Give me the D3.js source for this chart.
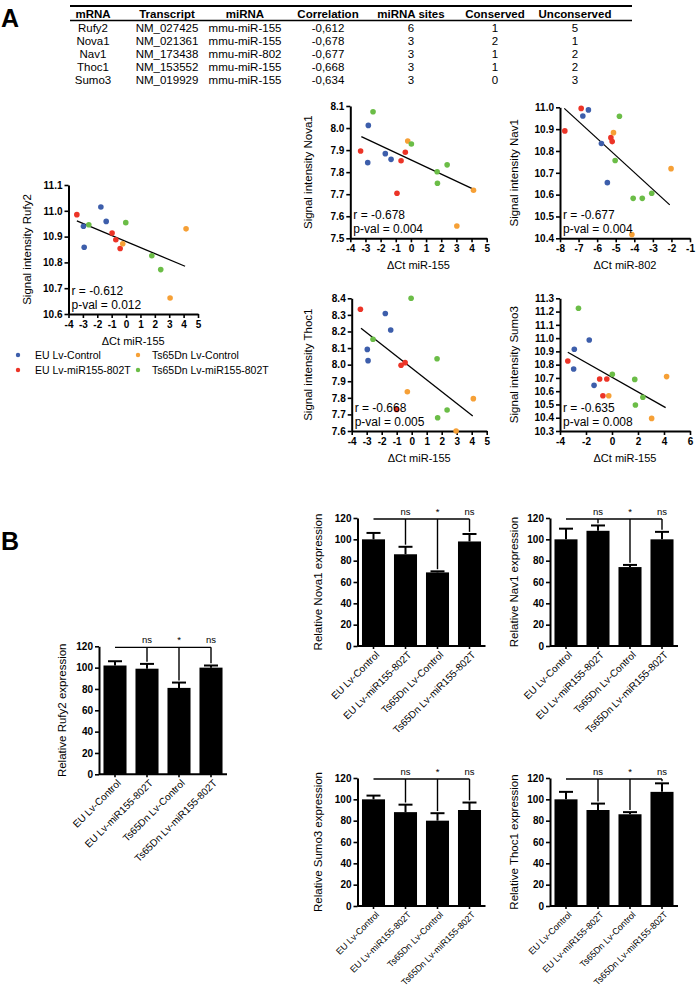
<!DOCTYPE html>
<html><head><meta charset="utf-8">
<script src="https://cdn.jsdelivr.net/npm/d3@7"></script>
<style>
body{margin:0;background:#fff}
text{font-family:"Liberation Sans",Arial,sans-serif;fill:#000}
</style>
</head><body>
<svg id="c" width="696" height="992"></svg>
<script>
// ---------------- DATA ----------------
const tableHeader = ["mRNA","Transcript","miRNA","Correlation","miRNA sites","Conserved","Unconserved"];
const tableMRNA = ["Rufy2","Nova1","Nav1","Thoc1","Sumo3"];
const tableTranscript = ["NM_027425","NM_021361","NM_173438","NM_153552","NM_019929"];
const tableMiRNA = ["mmu-miR-155","mmu-miR-155","mmu-miR-802","mmu-miR-155","mmu-miR-155"];
const tableCorrelation = ["-0,612","-0,678","-0,677","-0,668","-0,634"];
const tableSites = [6,3,3,3,3];
const tableConserved = [1,2,1,1,0];
const tableUnconserved = [5,1,2,2,3];

const groupNames = ["EU Lv-Control","EU Lv-miR155-802T","Ts65Dn Lv-Control","Ts65Dn Lv-miR155-802T"];
const groupColors = ["#3d5eab","#ec3427","#f6a036","#6bbd47"];

// scatter: group index 0 blue,1 red,2 orange,3 green
const rufy2G = [0,0,0,0, 1,1,1,1, 2,2,2, 3,3,3,3];
const rufy2X = [-1.75,-2.96,-1.38,-2.91, -3.42,-0.97,-0.71,-0.41, -0.23,4.17,3.06, -2.59,-0.02,1.79,2.41];
const rufy2Y = [11.015,10.94,10.959,10.859, 10.985,10.914,10.888,10.854, 10.872,10.93,10.662, 10.946,10.954,10.826,10.772];
const rufy2Fit = [-3.42,10.961,4.1,10.785];

const nova1G = [0,0,0,0, 1,1,1,1, 2,2,2, 3,3,3,3,3];
const nova1X = [-2.81,-2.85,-1.69,-1.31, -3.32,-0.65,-0.37,-0.92, -0.21,4.13,3.03, -2.5,0.03,1.73,1.75,2.39];
const nova1Y = [8.012,7.843,7.884,7.858, 7.896,7.852,7.89,7.704, 7.941,7.718,7.556, 8.074,7.928,7.802,7.75,7.833];
const nova1Fit = [-3.27,7.961,4.08,7.724];

const nav1G = [0,0,0,0, 1,1,1,1, 2,2,2, 3,3,3,3,3];
const nav1X = [-6.47,-6.77,-5.77,-5.45, -6.86,-7.74,-5.26,-5.19, -5.12,-2.02,-4.13, -4.8,-5.03,-4.06,-3.57,-3.06];
const nav1Y = [10.988,10.96,10.834,10.655, 10.995,10.892,10.861,10.843, 10.884,10.719,10.417, 10.959,10.756,10.583,10.583,10.606];
const nav1Fit = [-7.77,10.995,-2.09,10.553];

const thoc1G = [0,0,0,0, 1,1,1,1, 2,2,2, 3,3,3,3,3];
const thoc1X = [-1.76,-1.4,-2.96,-2.91, -3.42,-0.44,-0.71,-1.0, -0.29,4.11,2.96, -0.04,-2.58,1.69,2.36,1.73];
const thoc1Y = [8.308,8.209,8.092,8.024, 8.334,8.012,7.996,7.73, 7.837,7.795,7.6, 8.4,8.153,8.036,7.727,7.68];
const thoc1Fit = [-3.38,8.219,4.07,7.69];

const sumo3G = [0,0,0,0, 1,1,1,1, 2,2,2, 3,3,3,3,3];
const sumo3X = [-1.75,-2.9,-2.95,-1.38, -3.4,-0.95,-0.4,-0.7, 4.2,-0.25,3.05, -2.58,0.025,1.75,2.375,1.8];
const sumo3Y = [10.986,10.916,10.767,10.644, 10.828,10.692,10.692,10.566, 10.71,10.566,10.395, 11.225,10.727,10.689,10.554,10.496];
const sumo3Fit = [-3.4,10.893,4.125,10.476];

const scatterStats = {
  Rufy2:["r = -0.612","p-val = 0.012"], Nova1:["r = -0.678","p-val = 0.004"],
  Nav1:["r = -0.677","p-val = 0.004"], Thoc1:["r = -0.668","p-val = 0.005"],
  Sumo3:["r = -0.635","p-val = 0.008"]
};

// bars
const barCategories = ["EU Lv-Control","EU Lv-miR155-802T","Ts65Dn Lv-Control","Ts65Dn Lv-miR155-802T"];
const rufy2Bars = [102,99,81,100];   const rufy2Err = [4,4.5,5,2];
const nova1Bars = [100,86,69,98];    const nova1Err = [6,7,1,7];
const nav1Bars  = [100,108,74,100];  const nav1Err  = [10,5,2,7];
const sumo3Bars = [100,88,80,90];    const sumo3Err = [3.5,7,7,7];
const thoc1Bars = [100,90,86,107];   const thoc1Err = [7,6,2,8];
const sigLabels = ["ns","*","ns"];
const barYTicks = [0,20,40,60,80,100,120];

// ---------------- DRAW ----------------
const svg = d3.select("#c");

// panel letters
svg.append("text").attr("x",1).attr("y",27).attr("font-size",25).attr("font-weight","bold").text("A");
svg.append("text").attr("x",1).attr("y",550).attr("font-size",25).attr("font-weight","bold").text("B");

// table
const colX = [93,167,245,328,411,495,575];
const tfont = '"Liberation Sans Narrow","Arial Narrow","Liberation Sans",Arial,sans-serif';
svg.append("line").attr("x1",70).attr("x2",632).attr("y1",6).attr("y2",6).attr("stroke","#000").attr("stroke-width",2);
svg.append("line").attr("x1",70).attr("x2",632).attr("y1",20.5).attr("y2",20.5).attr("stroke","#000").attr("stroke-width",1.6);
tableHeader.forEach((h,i)=>{
  svg.append("text").attr("x",colX[i]).attr("y",18).attr("text-anchor","middle")
    .attr("font-size",11.5).attr("font-weight","bold").style("font-family",tfont).text(h);
});
const tableCols = [tableMRNA,tableTranscript,tableMiRNA,tableCorrelation,tableSites,tableConserved,tableUnconserved];
tableMRNA.forEach((m,r)=>{
  tableCols.forEach((col,i)=>{
    svg.append("text").attr("x",colX[i]).attr("y",31.5+r*13.2).attr("text-anchor","middle")
      .attr("font-size",11.5).style("font-family",tfont).text(col[r]);
  });
});

function styleAxis(g){
  g.select(".domain").attr("stroke-width",2).attr("stroke","#000");
  g.selectAll(".tick line").attr("stroke-width",1.6).attr("stroke","#000");
  g.selectAll(".tick text").attr("font-size",10).attr("font-weight","bold").attr("fill","#000")
   .style("font-family",'"Liberation Sans",Arial,sans-serif');
}

function scatter(cfg){
  const x = d3.scaleLinear().domain(cfg.xDom).range([cfg.left,cfg.right]);
  const y = d3.scaleLinear().domain(cfg.yDom).range([cfg.bottom,cfg.top]);
  const g = svg.append("g");
  const yt = d3.range(Math.round((cfg.yDom[1]-cfg.yDom[0])/0.1)+1).map(i=>+(cfg.yDom[0]+i*0.1).toFixed(1));
  const xt = d3.range(cfg.xDom[0],cfg.xDom[1]+0.001,cfg.xStep);
  const gx = g.append("g").attr("transform",`translate(0,${cfg.bottom})`)
    .call(d3.axisBottom(x).tickValues(xt).tickSize(4).tickSizeOuter(0).tickPadding(3).tickFormat(d=>String(d)));
  styleAxis(gx);
  const gy = g.append("g").attr("transform",`translate(${cfg.left},0)`)
    .call(d3.axisLeft(y).tickValues(yt).tickSize(4).tickSizeOuter(0).tickPadding(2).tickFormat(d3.format(".1f")));
  styleAxis(gy);
  // fit line
  g.append("line").attr("x1",x(cfg.fit[0])).attr("y1",y(cfg.fit[1]))
    .attr("x2",x(cfg.fit[2])).attr("y2",y(cfg.fit[3])).attr("stroke","#000").attr("stroke-width",1.3);
  // points
  g.selectAll("circle.p").data(cfg.X.map((v,i)=>({x:v,y:cfg.Y[i],g:cfg.G[i]}))).join("circle")
    .attr("cx",d=>x(d.x)).attr("cy",d=>y(d.y)).attr("r",2.8).attr("fill",d=>groupColors[d.g]);
  // stats
  g.append("text").attr("x",cfg.left+3).attr("y",cfg.bottom-19).attr("font-size",12).text(scatterStats[cfg.name][0]);
  g.append("text").attr("x",cfg.left+3).attr("y",cfg.bottom-5).attr("font-size",12).text(scatterStats[cfg.name][1]);
  // titles
  g.append("text").attr("x",(cfg.left+cfg.right)/2).attr("y",cfg.bottom+31).attr("text-anchor","middle")
    .attr("font-size",11).text(cfg.xTitle);
  g.append("text").attr("transform",`translate(${cfg.ytx},${(cfg.top+cfg.bottom)/2}) rotate(-90)`)
    .attr("text-anchor","middle").attr("font-size",11.5).text("Signal intensity "+cfg.name);
}

scatter({name:"Rufy2",X:rufy2X,Y:rufy2Y,G:rufy2G,fit:rufy2Fit,xDom:[-4,5],xStep:1,yDom:[10.6,11.1],
  left:68.5,right:198,top:185,bottom:314,ytx:31,xTitle:"\u0394Ct miR-155"});
scatter({name:"Nova1",X:nova1X,Y:nova1Y,G:nova1G,fit:nova1Fit,xDom:[-4,5],xStep:1,yDom:[7.5,8.1],
  left:350.3,right:486.7,top:106,bottom:238.3,ytx:312,xTitle:"\u0394Ct miR-155"});
scatter({name:"Nav1",X:nav1X,Y:nav1Y,G:nav1G,fit:nav1Fit,xDom:[-8,-1],xStep:1,yDom:[10.4,11.0],
  left:560,right:690,top:107.3,bottom:238.3,ytx:518,xTitle:"\u0394Ct miR-802"});
scatter({name:"Thoc1",X:thoc1X,Y:thoc1Y,G:thoc1G,fit:thoc1Fit,xDom:[-4,5],xStep:1,yDom:[7.6,8.4],
  left:351.7,right:486.7,top:298.3,bottom:431,ytx:312,xTitle:"\u0394Ct miR-155"});
scatter({name:"Sumo3",X:sumo3X,Y:sumo3Y,G:sumo3G,fit:sumo3Fit,xDom:[-4,6],xStep:2,yDom:[10.3,11.3],
  left:560,right:690,top:298.3,bottom:431,ytx:518,xTitle:"\u0394Ct miR-155"});

// legend
const legPos = [[18,355],[18,370],[138,355],[138,370]];
const legOrder = [0,1,2,3];
legOrder.forEach((gi,k)=>{
  const [lx,ly] = legPos[k];
  svg.append("circle").attr("cx",lx).attr("cy",ly).attr("r",2.2).attr("fill",groupColors[gi]);
  svg.append("text").attr("x",k<2?lx+17:lx+14).attr("y",ly+4).attr("font-size",10.5).text(groupNames[gi]);
});

// bar charts
function bars(cfg){
  const x = d3.scaleBand().domain(barCategories).range([cfg.ax,cfg.ax+128]).paddingInner(0.28).paddingOuter(0.14);
  const y = d3.scaleLinear().domain([0,120]).range([cfg.y0,cfg.y0-128]);
  const g = svg.append("g");
  const vals = cfg.vals.map((v,i)=>({c:barCategories[i],v,e:cfg.err[i]}));
  g.selectAll("rect").data(vals).join("rect")
    .attr("x",d=>x(d.c)).attr("width",x.bandwidth()).attr("y",d=>y(d.v)).attr("height",d=>y(0)-y(d.v)).attr("fill","#000");
  // error bars
  vals.forEach(d=>{
    const cx = x(d.c)+x.bandwidth()/2;
    g.append("line").attr("x1",cx).attr("x2",cx).attr("y1",y(d.v)).attr("y2",y(d.v+d.e)).attr("stroke","#000").attr("stroke-width",2);
    g.append("line").attr("x1",cx-7).attr("x2",cx+7).attr("y1",y(d.v+d.e)).attr("y2",y(d.v+d.e)).attr("stroke","#000").attr("stroke-width",2);
  });
  const gy = g.append("g").attr("transform",`translate(${cfg.ax},0)`)
    .call(d3.axisLeft(y).tickValues(barYTicks).tickSize(4).tickSizeOuter(0).tickPadding(2));
  styleAxis(gy);
  const gx = g.append("g").attr("transform",`translate(0,${cfg.y0})`)
    .call(d3.axisBottom(x).tickSize(3).tickSizeOuter(0).tickFormat(""));
  styleAxis(gx);
  gx.select(".domain").attr("d",`M${cfg.ax},0H${cfg.ax+128}`);
  // category labels
  barCategories.forEach(c=>{
    const cx = x(c)+x.bandwidth()/2;
    g.append("text").attr("transform",`translate(${cx+4},${cfg.y0+7}) rotate(-45)`)
      .attr("text-anchor","end").attr("dy","0.35em").attr("font-size",cfg.lf).text(c);
  });
  // significance
  const ly = y(119);
  const c0 = x(barCategories[0])+x.bandwidth()/2, c3 = x(barCategories[3])+x.bandwidth()/2;
  g.append("line").attr("x1",c0).attr("x2",c3).attr("y1",ly).attr("y2",ly).attr("stroke","#000").attr("stroke-width",1.4);
  [1,2,3].forEach((bi,k)=>{
    const d = vals[bi];
    const cx = x(d.c)+x.bandwidth()/2;
    const top = Math.min(119, d.v+d.e+2);
    g.append("line").attr("x1",cx).attr("x2",cx).attr("y1",ly).attr("y2",y(top)).attr("stroke","#000").attr("stroke-width",1.4);
    g.append("text").attr("x",cx).attr("y",ly-4).attr("text-anchor","middle").attr("font-size",9.5).text(sigLabels[k]);
  });
  g.append("text").attr("transform",`translate(${cfg.ytx},${cfg.y0-64}) rotate(-90)`)
    .attr("text-anchor","middle").attr("font-size",11.5).text(`Relative ${cfg.name} expression`);
}

bars({name:"Rufy2",vals:rufy2Bars,err:rufy2Err,ax:99,y0:774.3,ytx:66,lf:10});
bars({name:"Nova1",vals:nova1Bars,err:nova1Err,ax:357.5,y0:646,ytx:322,lf:10});
bars({name:"Nav1",vals:nav1Bars,err:nav1Err,ax:550,y0:646,ytx:518,lf:10});
bars({name:"Sumo3",vals:sumo3Bars,err:sumo3Err,ax:357.5,y0:906,ytx:322,lf:9});
bars({name:"Thoc1",vals:thoc1Bars,err:thoc1Err,ax:550,y0:906,ytx:518,lf:9});
</script>
</body></html>
